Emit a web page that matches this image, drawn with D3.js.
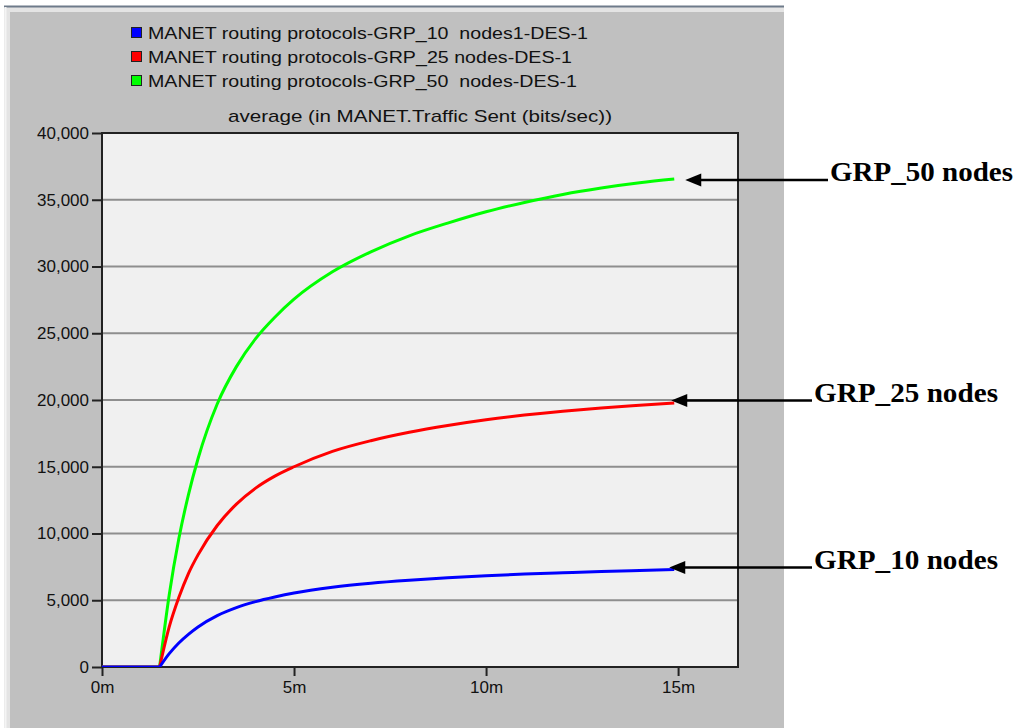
<!DOCTYPE html>
<html><head><meta charset="utf-8">
<script src="https://cdn.jsdelivr.net/npm/d3@7"></script>
<style>html,body{margin:0;padding:0;background:#fff;}svg{display:block;}text{white-space:pre;}</style>
</head><body>
<svg id="chart" width="1018" height="728"></svg>
<script>
// ---- data (minutes, bits/sec) ----
const times   = [0, 1.5, 1.75, 2, 2.25, 2.5, 3, 3.5, 4, 4.5, 5, 6, 7, 8, 9, 10, 11, 12, 13, 14, 14.9];
const grp10   = [0, 0, 1000, 1800, 2450, 3000, 3850, 4450, 4900, 5250, 5550, 5980, 6280, 6500, 6680, 6830, 6960, 7060, 7150, 7230, 7300];
const grp25   = [0, 0, 3000, 5200, 7000, 8400, 10600, 12200, 13400, 14300, 15000, 16150, 16950, 17580, 18090, 18520, 18870, 19160, 19400, 19600, 19770];
const grp50   = [0, 0, 5400, 9600, 12900, 15600, 19700, 22500, 24600, 26200, 27550, 29600, 31100, 32300, 33250, 34100, 34800, 35400, 35880, 36270, 36550];
const seriesNames  = ["MANET routing protocols-GRP_10  nodes1-DES-1", "MANET routing protocols-GRP_25 nodes-DES-1", "MANET routing protocols-GRP_50  nodes-DES-1"];
const seriesColors = ["#0000ff", "#ff0000", "#00ff00"];
const annotations  = ["GRP_10 nodes", "GRP_25 nodes", "GRP_50 nodes"];
const yTicks = [0, 5000, 10000, 15000, 20000, 25000, 30000, 35000, 40000];
const xTicks = [0, 5, 10, 15];
const title = "average (in MANET.Traffic Sent (bits/sec))";

const series = [grp10, grp25, grp50];

const svg = d3.select("#chart");
const font = "'Liberation Sans', Arial, sans-serif";

// panel background
svg.append("rect").attr("x",4).attr("y",6).attr("width",780).attr("height",722).attr("fill","#e4e4e4");
svg.append("rect").attr("x",10).attr("y",12).attr("width",774).attr("height",716).attr("fill","#c0c0c0");
svg.append("line").attr("x1",4).attr("x2",784).attr("y1",6.5).attr("y2",6.5).attr("stroke","#6e7b8a").attr("stroke-width",2);
svg.append("line").attr("x1",5.5).attr("x2",5.5).attr("y1",7).attr("y2",728).attr("stroke","#f4f4f4").attr("stroke-width",2);

const L = 102, R = 738, T = 133, B = 667;
const x = d3.scaleLinear().domain([0, 16.56]).range([L, R]);
const y = d3.scaleLinear().domain([0, 40000]).range([B, T]);

// plot bg
svg.append("rect").attr("x",L).attr("y",T).attr("width",R-L).attr("height",B-T).attr("fill","#f0f0f0");

// grid
svg.append("g").selectAll("line").data(yTicks.filter(v=>v>0 && v<40000)).join("line")
  .attr("x1",L).attr("x2",R).attr("y1",d=>y(d)).attr("y2",d=>y(d))
  .attr("stroke","#8e8e8e").attr("stroke-width",2);

// axes
const yAxis = d3.axisLeft(y).tickValues(yTicks).tickFormat(d3.format(",")).tickSize(10).tickPadding(3);
const gy = svg.append("g").attr("transform",`translate(${L},0)`).call(yAxis);
gy.select(".domain").remove();
gy.selectAll(".tick line").attr("stroke","#222").attr("stroke-width",2);
gy.selectAll(".tick text").attr("font-family",font).attr("font-size",17).attr("fill","#111");

const xAxis = d3.axisBottom(x).tickValues(xTicks).tickFormat(d=>d+"m").tickSize(9).tickPadding(5);
const gx = svg.append("g").attr("transform",`translate(0,${B})`).call(xAxis);
gx.select(".domain").remove();
gx.selectAll(".tick line").attr("stroke","#222").attr("stroke-width",2);
gx.selectAll(".tick text").attr("font-family",font).attr("font-size",17).attr("fill","#111");

// plot border
svg.append("rect").attr("x",L).attr("y",T).attr("width",R-L).attr("height",B-T)
  .attr("fill","none").attr("stroke","#222").attr("stroke-width",2);

// series (green, red, blue order so blue is on top)
const lineCurve = d3.line().x(d=>x(d[0])).y(d=>y(d[1])).curve(d3.curveMonotoneX);
const lineFlat  = d3.line().x(d=>x(d[0])).y(d=>y(d[1]));
svg.append("clipPath").attr("id","pc").append("rect").attr("x",L).attr("y",T).attr("width",R-L).attr("height",B-T);
const gl = svg.append("g").attr("clip-path","url(#pc)");
[2,1,0].forEach(i=>{
  const pts = times.map((t,j)=>[t, series[i][j]]);
  const start = times.indexOf(1.5);
  gl.append("path").attr("d", lineFlat(pts.slice(0,start+1))).attr("fill","none")
    .attr("stroke",seriesColors[i]).attr("stroke-width",3);
  gl.append("path").attr("d", lineCurve(pts.slice(start))).attr("fill","none")
    .attr("stroke",seriesColors[i]).attr("stroke-width",3).attr("stroke-linejoin","round");
});

// title
svg.append("text").attr("x",(L+R)/2).attr("y",122).attr("text-anchor","middle")
  .attr("font-family",font).attr("font-size",17).attr("fill","#111")
  .attr("textLength",384).attr("lengthAdjust","spacingAndGlyphs").text(title);

// legend
const legW = [440, 424, 429];
seriesNames.forEach((n,i)=>{
  const yy = 33 + i*24;
  svg.append("rect").attr("x",131.5).attr("y",yy-5.5).attr("width",10).attr("height",10)
    .attr("fill",seriesColors[i]).attr("stroke","#222").attr("stroke-width",1);
  svg.append("text").attr("x",148).attr("y",yy+6).attr("font-family",font).attr("font-size",17)
    .attr("fill","#111").attr("textLength",legW[i]).attr("lengthAdjust","spacingAndGlyphs").text(n);
});

// annotations with arrows
const annY = [567.5, 400.5, 180];
const tipOff = [-5, -3, 11];
const lineStart = [812, 812, 828];
annotations.forEach((a,i)=>{
  const endT = times[times.length-1];
  const tipX = x(endT) + tipOff[i];
  const ay = annY[i];
  svg.append("line").attr("x1",lineStart[i]).attr("x2",tipX+12).attr("y1",ay).attr("y2",ay)
    .attr("stroke","#000").attr("stroke-width",2.5);
  svg.append("path").attr("d",`M${tipX},${ay} L${tipX+16},${ay-6.5} L${tipX+16},${ay+6.5} Z`).attr("fill","#000");
  svg.append("text").attr("x",lineStart[i]+2).attr("y",ay+1).attr("font-family","'Liberation Serif','Times New Roman',serif")
    .attr("font-weight","bold").attr("font-size",27).attr("fill","#000")
    .attr("textLength", i===2 ? 183 : 184).attr("lengthAdjust","spacingAndGlyphs").text(a);
});
</script>
</body></html>
